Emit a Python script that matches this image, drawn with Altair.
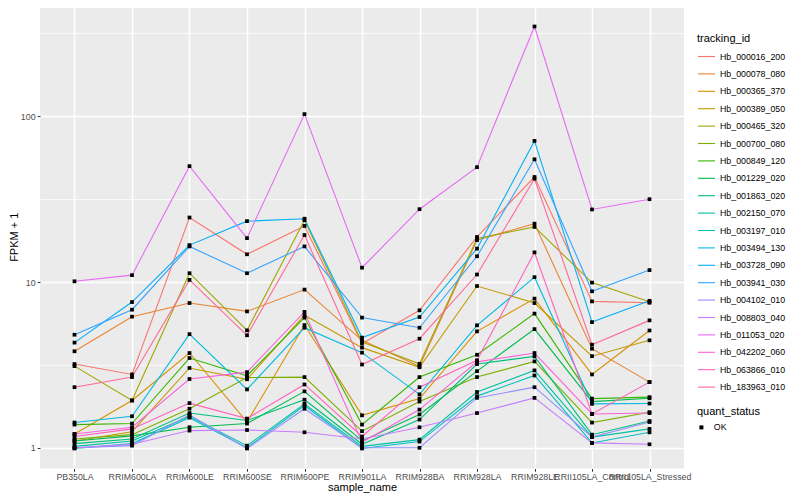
import math
import altair as alt
import pandas as pd

samples = ["PB350LA", "RRIM600LA", "RRIM600LE", "RRIM600SE", "RRIM600PE", "RRIM901LA",
           "RRIM928BA", "RRIM928LA", "RRIM928LE", "RRII105LA_Control", "RRII105LA_Stressed"]

tracking_ids = ["Hb_000016_200", "Hb_000078_080", "Hb_000365_370", "Hb_000389_050",
                "Hb_000465_320", "Hb_000700_080", "Hb_000849_120", "Hb_001229_020",
                "Hb_001863_020", "Hb_002150_070", "Hb_003197_010", "Hb_003494_130",
                "Hb_003728_090", "Hb_003941_030", "Hb_004102_010", "Hb_008803_040",
                "Hb_011053_020", "Hb_042202_060", "Hb_063866_010", "Hb_183963_010"]

# FPKM + 1 per sample
hb_000016_200 = [3.20, 2.77, 24.5, 14.7, 21.8, 4.25, 6.75, 18.7, 43.0, 7.64, 7.5]
hb_000078_080 = [3.82, 6.18, 7.47, 6.65, 9.0, 4.45, 3.10, 17.9, 22.5, 3.96, 2.49]
hb_000365_370 = [1.21, 1.93, 3.73, 1.43, 5.5, 1.57, 1.98, 5.04, 7.94, 2.77, 5.1]
hb_000389_050 = [1.10, 1.25, 3.03, 2.59, 6.3, 4.02, 3.06, 9.46, 7.47, 3.57, 4.45]
hb_000465_320 = [3.11, 1.93, 11.3, 5.11, 23.6, 4.34, 3.21, 18.3, 21.5, 9.92, 7.6]
hb_000700_080 = [1.13, 1.20, 1.72, 2.65, 2.67, 1.26, 1.90, 2.67, 3.32, 1.42, 1.64]
hb_000849_120 = [1.38, 1.40, 3.48, 2.72, 6.1, 1.38, 2.67, 3.64, 6.45, 1.98, 2.02]
hb_001229_020 = [1.10, 1.18, 1.33, 1.40, 2.19, 1.10, 1.59, 2.90, 5.20, 1.90, 1.99]
hb_001863_020 = [1.06, 1.13, 1.62, 1.46, 1.95, 1.05, 1.48, 3.2, 3.56, 1.20, 1.45]
hb_002150_070 = [1.02, 1.10, 1.55, 1.03, 1.84, 1.02, 1.12, 2.17, 2.93, 1.16, 1.30]
hb_003197_010 = [0.99, 1.06, 1.52, 1.0, 1.80, 0.99, 1.09, 2.05, 2.73, 1.07, 1.24]
hb_003494_130 = [1.42, 1.55, 4.85, 2.25, 5.3, 3.75, 2.10, 5.48, 10.7, 1.84, 1.85]
hb_003728_090 = [4.31, 7.57, 16.7, 23.3, 24.1, 4.62, 6.15, 15.9, 71.0, 5.73, 7.7]
hb_003941_030 = [4.81, 6.81, 16.4, 11.3, 16.4, 6.10, 5.30, 14.3, 55.0, 8.79, 11.8]
hb_004102_010 = [1.0, 1.03, 1.58, 0.99, 1.72, 1.0, 1.0, 2.0, 2.32, 1.16, 1.43]
hb_008803_040 = [1.0, 1.05, 1.27, 1.28, 1.24, 1.13, 1.33, 1.62, 2.0, 1.07, 1.05]
hb_011053_020 = [10.1, 11.0, 50.0, 18.4, 103.0, 12.2, 27.5, 49.3, 348.0, 27.4, 31.6]
hb_042202_060 = [1.21, 1.33, 2.60, 2.86, 6.6, 1.08, 1.70, 3.30, 3.73, 1.60, 1.62]
hb_063866_010 = [1.17, 1.30, 1.86, 1.50, 2.41, 1.17, 2.32, 3.37, 15.1, 1.60, 2.49]
hb_183963_010 = [2.32, 2.67, 10.3, 4.77, 19.2, 3.18, 4.55, 11.1, 42.0, 4.19, 5.87]

series = [hb_000016_200, hb_000078_080, hb_000365_370, hb_000389_050, hb_000465_320,
          hb_000700_080, hb_000849_120, hb_001229_020, hb_001863_020, hb_002150_070,
          hb_003197_010, hb_003494_130, hb_003728_090, hb_003941_030, hb_004102_010,
          hb_008803_040, hb_011053_020, hb_042202_060, hb_063866_010, hb_183963_010]

y_ticks = [1, 3.1623, 10, 31.623, 100, 316.23]


def hcl_hex(h, c=100.0, l=65.0):
    xn, yn, zn = 95.047, 100.0, 108.883
    den = xn + 15 * yn + 3 * zn
    un, vn = 4 * xn / den, 9 * yn / den
    hr = math.radians(h)
    u, v = c * math.cos(hr), c * math.sin(hr)
    Y = yn * ((l + 16) / 116) ** 3
    up, vp = u / (13 * l) + un, v / (13 * l) + vn
    X = Y * 9 * up / (4 * vp)
    Z = Y * (12 - 3 * up - 20 * vp) / (4 * vp)
    X, Y, Z = X / 100, Y / 100, Z / 100
    r = 3.2404542 * X - 1.5371385 * Y - 0.4985314 * Z
    g = -0.9692660 * X + 1.8760108 * Y + 0.0415560 * Z
    b = 0.0556434 * X - 0.2040259 * Y + 1.0572252 * Z

    def gam(t):
        t = 12.92 * t if t <= 0.0031308 else 1.055 * max(t, 0) ** (1 / 2.4) - 0.055
        return int(max(0, min(255, round(t * 255))))
    return "#%02X%02X%02X" % (gam(r), gam(g), gam(b))


n = len(tracking_ids)
colors = [hcl_hex(15 + 360 * i / n) for i in range(n)]

rows = []
for tid, vals in zip(tracking_ids, series):
    for si, (s, v) in enumerate(zip(samples, vals)):
        rows.append({"tracking_id": tid, "sample_name": s, "sidx": si,
                     "fpkm1": v, "quant_status": "OK"})
df = pd.DataFrame(rows)

FONT = "Liberation Sans"
major = "datum.value == 1 || datum.value == 10 || datum.value == 100"

x_enc = alt.X("sample_name:N", sort=samples,
              scale=alt.Scale(type="point", padding=0.6),
              axis=alt.Axis(title="sample_name", labelAngle=0, labelOverlap=False,
                            grid=True, gridColor="white", gridWidth=1.4,
                            domain=False, tickColor="#333333", tickSize=2.75,
                            labelColor="#4D4D4D", labelFontSize=8.8, labelPadding=1.5,
                            labelFont=FONT, titleFont=FONT, titleFontSize=11,
                            titleFontWeight="normal", titleColor="black",
                            titlePadding=0))

y_enc = alt.Y("fpkm1:Q",
              scale=alt.Scale(type="log", domain=[0.750, 469], nice=False),
              axis=alt.Axis(title="FPKM + 1", values=y_ticks,
                            labelExpr="(" + major + ") ? datum.label : ''",
                            grid=True, gridColor="white",
                            gridWidth={"condition": {"test": major, "value": 1.4}, "value": 0.7},
                            tickOpacity={"condition": {"test": major, "value": 1}, "value": 0},
                            domain=False, tickColor="#333333", tickSize=2.75,
                            labelColor="#4D4D4D", labelFontSize=8.8, labelPadding=2.2,
                            labelFont=FONT, titleFont=FONT, titleFontSize=11,
                            titleFontWeight="normal", titleColor="black",
                            titlePadding=1))

lines = alt.Chart(df).mark_line(strokeWidth=1.1).encode(
    x=x_enc, y=y_enc,
    order=alt.Order("sidx:Q"),
    color=alt.Color("tracking_id:N",
                    scale=alt.Scale(domain=tracking_ids, range=colors),
                    legend=alt.Legend(title="tracking_id", orient="none",
                                      legendX=657, legendY=28,
                                      symbolType="stroke", symbolSize=289,
                                      symbolStrokeWidth=1.1, rowPadding=2.4,
                                      labelOffset=4, titlePadding=3,
                                      labelFont=FONT, titleFont=FONT,
                                      labelFontSize=8.8, titleFontSize=11,
                                      titleFontWeight="normal",
                                      labelColor="black", titleColor="black")),
)

points = alt.Chart(df).mark_point(filled=True, size=14, opacity=1).encode(
    x=x_enc, y=y_enc,
    color=alt.value("black"),
    shape=alt.Shape("quant_status:N", scale=alt.Scale(range=["square"]),
                    legend=alt.Legend(title="quant_status", orient="none",
                                      legendX=657, legendY=401,
                                      symbolFillColor="black", symbolStrokeColor="black",
                                      symbolSize=16, titlePadding=6, labelOffset=8,
                                      labelFont=FONT, titleFont=FONT,
                                      labelFontSize=8.8, titleFontSize=11,
                                      titleFontWeight="normal",
                                      labelColor="black", titleColor="black")),
)

chart = alt.layer(lines, points).properties(
    width=644, height=463.5,
    padding={"left": 32, "top": -3, "right": 108, "bottom": 24},
    autosize=alt.AutoSizeParams(type="none"),
    background="white",
).configure_view(fill="#EBEBEB", strokeWidth=0)

chart.save("out.html", embed_options={"renderer": "svg", "actions": False})
